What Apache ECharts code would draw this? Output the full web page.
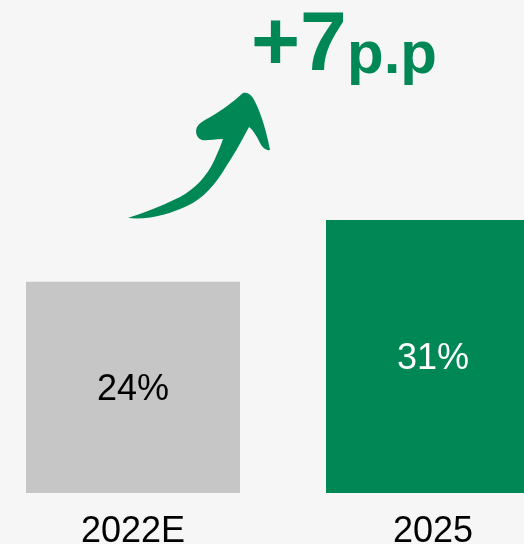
<!DOCTYPE html>
<html>
<head>
<meta charset="utf-8">
<script src="https://cdn.jsdelivr.net/npm/echarts@6/dist/echarts.min.js"></script>
<style>
  html, body { margin: 0; padding: 0; background: #f6f6f6; }
  #main { width: 524px; height: 544px; }
</style>
</head>
<body>
<div id="main"></div>
<script>
// data
var categories = ['2022E', '2025'];
var shareValues = [24, 31];
var barColors = ['#c6c6c6', '#008756'];
var labelColors = ['#000000', '#ffffff'];
var deltaText = '+7';
var deltaUnit = 'p.p';

var FONT = '"Liberation Sans", Arial, sans-serif';
var GREEN = '#008756';

// hand-drawn style arrow outline (pixels)
var ARROW_PATH =
  'M243,93 C246,92 250,93 253,98 C259,108 266,128 270,150 ' +
  'C266,151 262,147 260,143 C257,136 252,129 249,127 ' +
  'C244,136 236,152 227,165 C216,184 203,199 187,206 ' +
  'C170,214 150,220 128,218 ' +
  'C140,214 160,207 180,197 C195,189 207,176 214,161 ' +
  'C218,152 221,145 223,139 ' +
  'C214,139 206,141 202,140 C196,138 195,131 197,127 ' +
  'C200,122 205,120 212,116 C222,110 232,103 243,93 Z';

var chart = echarts.init(document.getElementById('main'));

var option = {
  backgroundColor: '#f6f6f6',
  animation: false,
  // bars centred on the two ticks, they overflow the grid sideways
  grid: { left: 133, right: 91, top: 0, bottom: 51, containLabel: false, outerBoundsMode: 'none' },
  xAxis: {
    type: 'category',
    data: categories,
    boundaryGap: false,
    axisLine: { show: false },
    axisTick: { show: false },
    splitLine: { show: false },
    axisLabel: { interval: 0, fontSize: 36, color: '#000', fontFamily: FONT, margin: 21 }
  },
  yAxis: {
    type: 'value',
    min: 0,
    max: 56,
    show: false,
    splitLine: { show: false }
  },
  series: [
    {
      type: 'bar',
      barWidth: 214,
      clip: false,
      data: shareValues.map(function (v, i) {
        return {
          value: v,
          itemStyle: { color: barColors[i] },
          label: { color: labelColors[i] }
        };
      }),
      label: {
        show: true,
        position: 'inside',
        offset: [0, 3],
        fontSize: 36,
        fontFamily: FONT,
        formatter: '{c}%'
      }
    },
    {
      // the arrow
      type: 'custom',
      coordinateSystem: 'none',
      silent: true,
      data: [0],
      renderItem: function () {
        return {
          type: 'path',
          shape: { pathData: ARROW_PATH },
          style: { fill: GREEN }
        };
      }
    }
  ],
  graphic: [
    {
      type: 'text',
      style: {
        x: 251,
        y: 47,
        text: deltaText,
        fill: GREEN,
        font: 'bold 84px ' + FONT,
        verticalAlign: 'middle'
      }
    },
    {
      type: 'text',
      style: {
        x: 347,
        y: 56,
        text: deltaUnit,
        fill: GREEN,
        font: 'bold 60px ' + FONT,
        verticalAlign: 'middle'
      }
    }
  ]
};

chart.setOption(option);
</script>
</body>
</html>
